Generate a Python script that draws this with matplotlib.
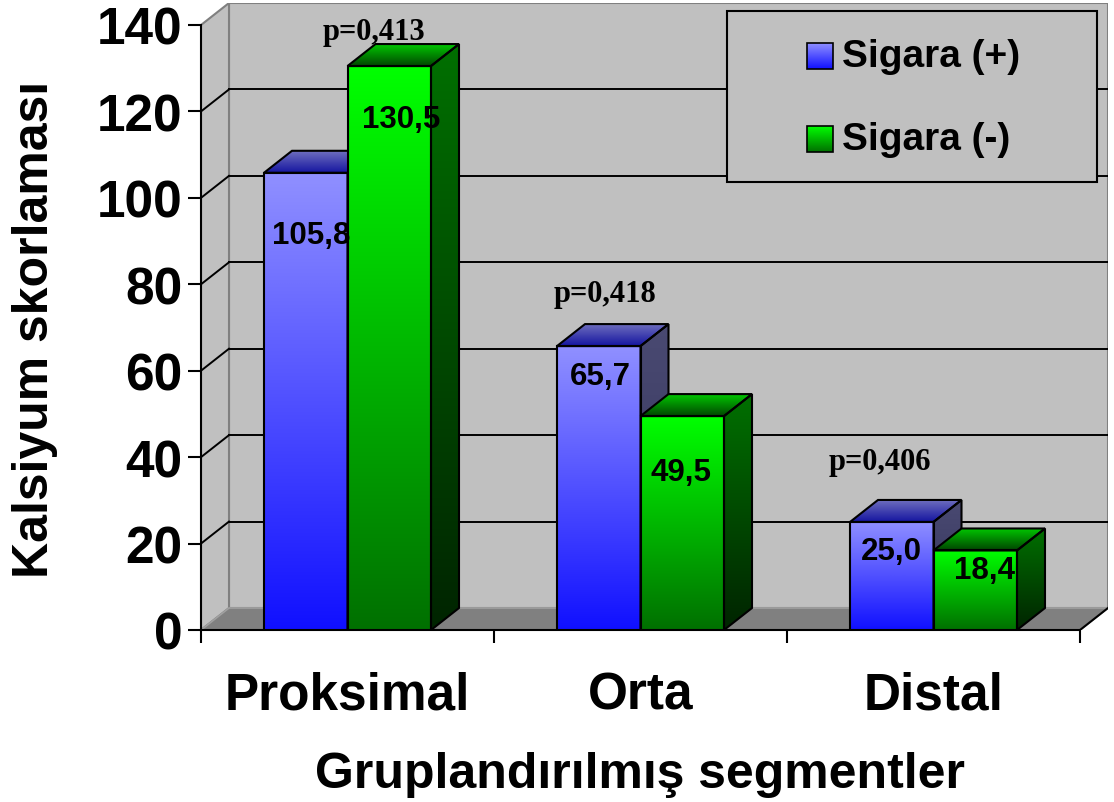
import numpy as np
import matplotlib
matplotlib.use('Agg')
import matplotlib.pyplot as plt
from matplotlib.patches import Polygon

plt.rcParams['font.family'] = ['Liberation Sans', 'DejaVu Sans']
plt.rcParams['font.weight'] = 'bold'

categories = ['Proksimal', 'Orta', 'Distal']
series_names = ['Sigara (+)', 'Sigara (-)']
sigara_pos = [105.8, 65.7, 25.0]
sigara_neg = [130.5, 49.5, 18.4]
p_texts = ['p=0,413', 'p=0,418', 'p=0,406']
y_ticks = [0, 20, 40, 60, 80, 100, 120, 140]

# where the labels sit relative to their bars
val_dx = [[0.018, 0.04], [0.004, -0.004], [0.0, 0.032]]
val_dy = [[14.4, 12.3], [6.9, 12.9], [6.7, 4.5]]
p_pos = [(0.59, 138.4), (1.379, 77.8), (2.317, 38.9)]

# colours (top, bottom) for front / roof / side of each series
front = [((144, 144, 255), (16, 16, 255)), ((0, 255, 0), (0, 112, 0))]
roof = [((110, 110, 190), (20, 20, 160)), ((0, 200, 0), (0, 70, 0))]
side = [((74, 74, 114), (48, 48, 88)), ((0, 112, 0), (0, 36, 0))]

W, H = 1114, 803
PXC = 293.0          # pixels per category
PXV = 605.0 / 140    # pixels per unit
DX = 28 / PXC        # depth offset
DY = 22 / PXV
BW = 83.5 / PXC      # bar width

fig = plt.figure(figsize=(W / 100, H / 100), dpi=100)
ax = fig.add_axes([201 / W, 1 - 631 / H, (1108 - 201) / W, (631 - 4) / H])
ax.patch.set_visible(False)


def px(xp, yp):
    return (xp - 201) / PXC, (631 - yp) / PXV


def face(verts, top, bottom, z, ec='black', lw=1.5):
    verts = np.asarray(verts, dtype=float)
    poly = Polygon(verts, closed=True, fc='none', ec=ec, lw=lw, zorder=z + 0.5)
    ax.add_patch(poly)
    t = np.linspace(0, 1, 200)[:, None, None]
    img = np.array(top) / 255 * (1 - t) + np.array(bottom) / 255 * t
    im = ax.imshow(img, extent=(verts[:, 0].min(), verts[:, 0].max(),
                                verts[:, 1].min(), verts[:, 1].max()),
                   origin='upper', aspect='auto', interpolation='bilinear', zorder=z)
    im.set_clip_path(poly)


# walls and floor
n = len(categories)
ax.add_patch(Polygon([(DX, DY), (n + DX, DY), (n + DX, 140 + DY), (DX, 140 + DY)],
                     fc='#c0c0c0', ec='#808080', lw=1.5, zorder=1))
ax.add_patch(Polygon([(0, 0), (DX, DY), (DX, 140 + DY), (0, 140)],
                     fc='#c0c0c0', ec='#808080', lw=1.5, zorder=1))
ax.add_patch(Polygon([(0, 0), (n, 0), (n + DX, DY), (DX, DY)],
                     fc='#808080', ec='#a0a0a0', lw=1.2, zorder=1.2))
for v in y_ticks[1:-1]:
    ax.plot([DX, n + DX], [v + DY, v + DY], color='black', lw=1.4, zorder=2)
    ax.plot([0, DX], [v, v + DY], color='black', lw=1.4, zorder=2)
ax.plot([n, n + DX], [0, DY], color='black', lw=1.5, zorder=3)

# bars
for c in range(n):
    for s, vals in enumerate([sigara_pos, sigara_neg]):
        v = vals[c]
        x0 = c + 0.5 - BW + s * BW
        z = 10 + (2 * c + s) * 2
        face([(x0, 0), (x0 + BW, 0), (x0 + BW, v), (x0, v)], *front[s], z)
        face([(x0, v), (x0 + BW, v), (x0 + BW + DX, v + DY), (x0 + DX, v + DY)], *roof[s], z)
        face([(x0 + BW, 0), (x0 + BW + DX, DY), (x0 + BW + DX, v + DY), (x0 + BW, v)], *side[s], z)
        ax.text(x0 + BW / 2 + val_dx[c][s], v - val_dy[c][s], f'{v:.1f}'.replace('.', ','),
                ha='center', va='center', fontsize=22.5, fontweight='bold', zorder=40)
    ax.text(p_pos[c][0], p_pos[c][1], p_texts[c], ha='center', va='center',
            fontsize=22, fontweight='bold', family='Liberation Serif', zorder=40)

# legend box
lx0, ly0 = px(727, 183)
lx1, ly1 = px(1097, 12)
ax.add_patch(Polygon([(lx0, ly0), (lx1, ly0), (lx1, ly1), (lx0, ly1)],
                     fc='#c0c0c0', ec='black', lw=1.5, zorder=50))
for s, (yc, name) in enumerate(zip([57, 140], series_names)):
    mx0, my0 = px(807, yc + 13)
    mx1, my1 = px(833, yc - 13)
    face([(mx0, my0), (mx1, my0), (mx1, my1), (mx0, my1)], *front[s], 51, lw=1.2)
    tx, ty = px(842, yc)
    ax.text(tx, ty, name, ha='left', va='center', fontsize=28, fontweight='bold', zorder=52)

ax.set_xlim(0, n + DX)
ax.set_ylim(0, 140 + DY)

for side_name in ['top', 'right']:
    ax.spines[side_name].set_visible(False)
ax.spines['left'].set_bounds(0, 140)
ax.spines['bottom'].set_bounds(0, n)
for sp in ['left', 'bottom']:
    ax.spines[sp].set_linewidth(1.5)
    ax.spines[sp].set_zorder(5)

ax.set_yticks(y_ticks)
ax.set_yticklabels([str(v) for v in y_ticks], fontsize=37, fontweight='bold')
ax.tick_params(axis='y', length=9.4, width=1.5, pad=4)
ax.set_xticks(range(n + 1))
ax.set_xticklabels([''] * (n + 1))
ax.set_xticks([c + 0.5 for c in range(n)], minor=True)
ax.set_xticklabels(categories, minor=True, fontsize=37, fontweight='bold')
ax.tick_params(axis='x', which='major', length=9.4, width=1.5)
ax.tick_params(axis='x', which='minor', length=0, pad=29.5)

fig.text(35 / W, 1 - 329 / H, 'Kalsiyum skorlaması', rotation=90, ha='center', va='center',
         fontsize=36, fontweight='bold')
fig.text(640 / W, 1 - 788 / H, 'Gruplandırılmış segmentler', ha='center', va='baseline',
         fontsize=36, fontweight='bold')

fig.savefig('out.png', dpi=100)
